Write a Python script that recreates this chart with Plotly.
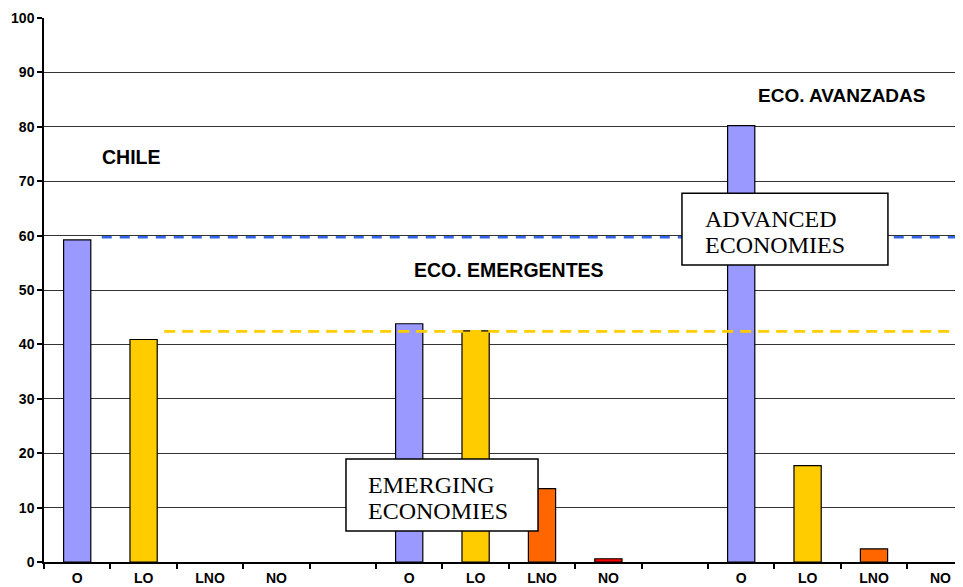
import plotly.graph_objects as go

categories = ["O", "LO", "LNO", "NO", "", "O", "LO", "LNO", "NO", "", "O", "LO", "LNO", "NO"]
chile = [59.2, 40.9, 0.0, 0.0]
emerging = [43.8, 42.5, 13.5, 0.6]
advanced = [80.2, 17.7, 2.4, 0.0]
bar_colors = ["#9999FF", "#FFCC00", "#FF6600", "#FF0000"]
ref_advanced = 59.7
ref_emerging = 42.4
yticks = list(range(0, 101, 10))

positions = list(range(len(categories)))
values = chile + [None] + emerging + [None] + advanced
colors = bar_colors + ["white"] + bar_colors + ["white"] + bar_colors
line_widths = [1.2 if (v is not None and v > 0) else 0 for v in values]

fig = go.Figure()
fig.add_trace(go.Bar(
    x=positions, y=values, width=0.41,
    marker=dict(color=colors, line=dict(color="black", width=line_widths)),
    showlegend=False, hoverinfo="skip",
))

xmax = -0.5 + 919 / 66.4
bold = dict(family="Arial, Liberation Sans, sans-serif", size=14, color="black", weight="bold")
serif = dict(family="Times New Roman, Liberation Serif, serif", size=24, color="black")

shapes = [
    dict(type="line", xref="x", yref="y", x0=0.37, x1=xmax, y0=ref_advanced, y1=ref_advanced,
         line=dict(color="#3366EE", width=2.6, dash="10px,8px"), layer="above"),
    dict(type="line", xref="x", yref="y", x0=1.31, x1=xmax, y0=ref_emerging, y1=ref_emerging,
         line=dict(color="#FFCC00", width=2.6, dash="11px,7px"), layer="above"),
    dict(type="rect", xref="x", yref="y", x0=9.108, x1=12.21, y0=54.6, y1=67.8,
         line=dict(color="black", width=1.5), fillcolor="white", layer="above"),
    dict(type="rect", xref="x", yref="y", x0=4.048, x1=6.94, y0=5.7, y1=18.93,
         line=dict(color="black", width=1.5), fillcolor="white", layer="above"),
]

annotations = [
    dict(text="CHILE", x=0.82, y=74.4, xref="x", yref="y", showarrow=False,
         font=dict(bold, size=19.5)),
    dict(text="ECO. EMERGENTES", x=6.50, y=53.7, xref="x", yref="y", showarrow=False,
         font=dict(bold, size=19.5)),
    dict(text="ECO. AVANZADAS", x=11.51, y=85.8, xref="x", yref="y", showarrow=False,
         font=dict(bold, size=19)),
    dict(text="ADVANCED", x=9.425, y=63.1, xref="x", yref="y", xanchor="left", showarrow=False, font=serif),
    dict(text="ECONOMIES", x=9.425, y=58.2, xref="x", yref="y", xanchor="left", showarrow=False, font=serif),
    dict(text="EMERGING", x=4.35, y=14.2, xref="x", yref="y", xanchor="left", showarrow=False, font=serif),
    dict(text="ECONOMIES", x=4.35, y=9.4, xref="x", yref="y", xanchor="left", showarrow=False, font=serif),
]

fig.update_layout(
    width=955, height=579,
    margin=dict(l=36, r=0, t=10, b=25),
    paper_bgcolor="white", plot_bgcolor="white",
    shapes=shapes, annotations=annotations,
)
fig.update_xaxes(
    range=[-0.5, xmax], tickmode="array", tickvals=positions, ticktext=categories,
    ticks="", showgrid=False, showline=True, linecolor="black", linewidth=1.5,
    tickfont=bold, zeroline=False, ticklabelstandoff=2,
    minor=dict(tickmode="array", tickvals=[p - 0.5 for p in positions] + [13.5],
               ticks="outside", ticklen=5, tickcolor="black", tickwidth=1.5, showgrid=False),
)
fig.update_yaxes(
    range=[0, 100], tickmode="array", tickvals=yticks,
    showgrid=True, gridcolor="#333333", gridwidth=1.3,
    showline=True, linecolor="black", linewidth=1.5,
    ticks="outside", ticklen=5, tickcolor="black", tickwidth=1.5,
    tickfont=bold, zeroline=False,
)

fig.write_html("out.html")
